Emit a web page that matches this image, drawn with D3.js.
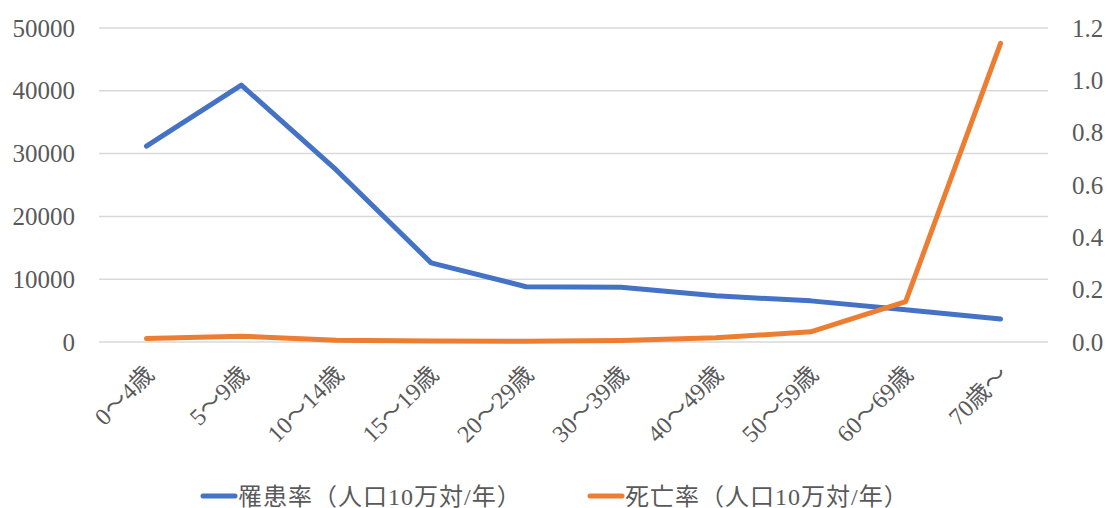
<!DOCTYPE html>
<html><head><meta charset="utf-8">
<script src="https://cdn.jsdelivr.net/npm/d3@7"></script>
<style>
html,body{margin:0;padding:0;background:#fff;}
svg text{font-family:"Liberation Serif","Noto Sans CJK JP",serif;fill:#595959;}
</style></head>
<body><svg id="chart" width="1107" height="508"></svg>
<script>
const categories = ["0〜4歳","5〜9歳","10〜14歳","15〜19歳","20〜29歳","30〜39歳","40〜49歳","50〜59歳","60〜69歳","70歳〜"];
const incidence = [31200, 40900, 27400, 12600, 8800, 8700, 7350, 6550, 5150, 3650];
const mortality = [0.013, 0.022, 0.007, 0.004, 0.003, 0.006, 0.016, 0.039, 0.154, 1.141];
const leftTicks = [0, 10000, 20000, 30000, 40000, 50000];
const rightTicks = [0, 0.2, 0.4, 0.6, 0.8, 1.0, 1.2];
const seriesNames = ["罹患率（人口10万対/年）", "死亡率（人口10万対/年）"];
const colors = ["#4472C4", "#ED7D31"];

(function () {
const svg = d3.select("#chart");
const pL = 99, pR = 1048, pT = 28, pB = 342;

const x = d3.scaleBand().domain(categories).range([pL, pR]);
const yL = d3.scaleLinear().domain([0, 50000]).range([pB, pT]);
const yR = d3.scaleLinear().domain([0, 1.2]).range([pB, pT]);

// gridlines
svg.append("g").selectAll("line").data(leftTicks).join("line")
  .attr("x1", pL).attr("x2", pR)
  .attr("y1", d => yL(d)).attr("y2", d => yL(d))
  .attr("stroke", "#d9d9d9").attr("stroke-width", 1.5);

// left axis
const axL = svg.append("g").attr("transform", `translate(${pL},0)`)
  .call(d3.axisLeft(yL).tickValues(leftTicks).tickSize(0).tickPadding(24).tickFormat(d3.format("d")));
axL.select(".domain").remove();
axL.selectAll("text").attr("font-size", 25).attr("fill", "#595959")
  .style("font-family", '"Liberation Serif", serif');

// right axis
const axR = svg.append("g").attr("transform", `translate(${pR},0)`)
  .call(d3.axisRight(yR).tickValues(rightTicks).tickSize(0).tickPadding(24).tickFormat(d3.format(".1f")));
axR.select(".domain").remove();
axR.selectAll("text").attr("font-size", 25).attr("fill", "#595959")
  .style("font-family", '"Liberation Serif", serif');

// x labels
const cx = d => x(d) + x.bandwidth() / 2;
svg.append("g").selectAll("text").data(categories).join("text")
  .attr("transform", d => `translate(${cx(d) + 3},${370}) rotate(-45)`)
  .attr("text-anchor", "end").attr("dy", "0.35em")
  .attr("font-size", 24).text(d => d);

// lines
const lineL = d3.line().x((d, i) => cx(categories[i])).y(d => yL(d));
const lineR = d3.line().x((d, i) => cx(categories[i])).y(d => yR(d));
svg.append("path").datum(incidence).attr("d", lineL)
  .attr("fill", "none").attr("stroke", colors[0]).attr("stroke-width", 5)
  .attr("stroke-linecap", "round").attr("stroke-linejoin", "round");
svg.append("path").datum(mortality).attr("d", lineR)
  .attr("fill", "none").attr("stroke", colors[1]).attr("stroke-width", 5)
  .attr("stroke-linecap", "round").attr("stroke-linejoin", "round");

// legend
const legendX = [203, 590];
const lg = svg.append("g").selectAll("g").data(seriesNames).join("g")
  .attr("transform", (d, i) => `translate(${legendX[i]},496)`);
lg.append("line").attr("x1", 0).attr("x2", 32).attr("y1", 0).attr("y2", 0)
  .attr("stroke", (d, i) => colors[i]).attr("stroke-width", 5).attr("stroke-linecap", "round");
lg.append("text").attr("x", 35).attr("dy", "0.36em").attr("font-size", 24)
  .attr("letter-spacing", 1).text(d => d);
})();
</script></body></html>
